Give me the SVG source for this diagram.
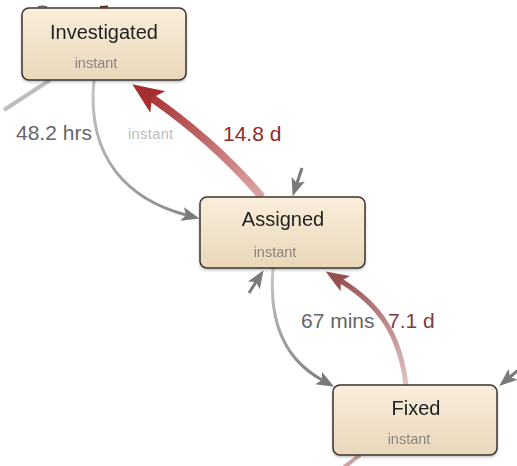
<svg xmlns="http://www.w3.org/2000/svg" width="517" height="466" viewBox="0 0 517 466">
  <style>
    .box { fill: url(#boxFill); stroke: #3a3530; stroke-width: 1.5; }
    .title { font-family: "Liberation Sans", Arial, sans-serif; font-size: 20px; fill: #222; text-anchor: middle; }
    .sub { font-family: "Liberation Sans", Arial, sans-serif; font-size: 14.5px; fill: #8a8580; text-anchor: middle; }
    .lbl { font-family: "Liberation Sans", Arial, sans-serif; font-size: 21px; }
    .edge { fill: none; stroke-linecap: butt; }
  </style>
  <defs>
    <linearGradient id="boxFill" x1="0" y1="0" x2="0" y2="1">
      <stop offset="0" stop-color="#faeedc"/>
      <stop offset="1" stop-color="#e9d7b9"/>
    </linearGradient>
    <filter id="shadow" x="-10%" y="-10%" width="120%" height="130%">
      <feDropShadow dx="0" dy="1.5" stdDeviation="1.2" flood-color="#000" flood-opacity="0.25"/>
    </filter>
    <!-- edge gradients, drawn along each connector -->
    <linearGradient id="gInstant" gradientUnits="userSpaceOnUse" x1="94" y1="80" x2="190" y2="216">
      <stop offset="0" stop-color="#c4c4c4"/>
      <stop offset="1" stop-color="#8a8a8a"/>
    </linearGradient>
    <linearGradient id="gRed" gradientUnits="userSpaceOnUse" x1="262" y1="197" x2="150" y2="96">
      <stop offset="0" stop-color="#dda6a6"/>
      <stop offset="1" stop-color="#a83434"/>
    </linearGradient>
    <linearGradient id="gMins" gradientUnits="userSpaceOnUse" x1="273" y1="268" x2="322" y2="380">
      <stop offset="0" stop-color="#c8c8c8"/>
      <stop offset="1" stop-color="#7f7f7f"/>
    </linearGradient>
    <linearGradient id="gBrown" gradientUnits="userSpaceOnUse" x1="406" y1="385" x2="341" y2="281">
      <stop offset="0" stop-color="#e2c2c2"/>
      <stop offset="1" stop-color="#9a5454"/>
    </linearGradient>
    <marker id="arrGray" markerUnits="userSpaceOnUse" markerWidth="20" markerHeight="16" viewBox="0 -8 20 16" refX="4" refY="0" orient="auto">
      <path d="M0,-7 L18,0 L0,7 L4,0 z" fill="#7a7a7a"/>
    </marker>
    <marker id="arrRed" markerUnits="userSpaceOnUse" markerWidth="32" markerHeight="28" viewBox="0 -14 32 28" refX="7" refY="0" orient="auto">
      <path d="M0,-13 L31,0 L0,13 L7,0 z" fill="#a52f2f"/>
    </marker>
    <marker id="arrBrown" markerUnits="userSpaceOnUse" markerWidth="24" markerHeight="20" viewBox="0 -10 24 20" refX="5" refY="0" orient="auto">
      <path d="M0,-9 L23,0 L0,9 L5,0 z" fill="#955050"/>
    </marker>
  </defs>

  <g id="connectors">
    <!-- stubs running off the canvas -->
    <path class="edge" d="M50 80 L4 110" stroke="#bdbdbd" stroke-width="4"/>
    <path class="edge" d="M360 455 L343 468" stroke="#c9a3a3" stroke-width="4"/>
    <path class="edge" d="M38 7 Q42 5.5 47 7" stroke="#666" stroke-width="1.5"/>
    <path class="edge" d="M100 7 L108 6.5" stroke="#6a2a2a" stroke-width="2"/>

    <!-- Investigated -> Assigned (instant) -->
    <path class="edge" d="M94 80 C86 160 130 200 186 215" stroke="url(#gInstant)" stroke-width="3" marker-end="url(#arrGray)"/>
    <!-- Assigned -> Investigated (14.8 d) -->
    <path class="edge" d="M262 197 C232 162 192 126 152 98" stroke="url(#gRed)" stroke-width="8" marker-end="url(#arrRed)"/>
    <!-- incoming stubs -->
    <path class="edge" d="M302 168 L297 183" stroke="#7a7a7a" stroke-width="3" marker-end="url(#arrGray)"/>
    <path class="edge" d="M249 293 L256 282" stroke="#7a7a7a" stroke-width="3" marker-end="url(#arrGray)"/>
    <path class="edge" d="M522 367 L510 377" stroke="#7a7a7a" stroke-width="3" marker-end="url(#arrGray)"/>
    <!-- Assigned -> Fixed (67 mins) -->
    <path class="edge" d="M273 268 C268 330 290 362 322 380" stroke="url(#gMins)" stroke-width="3" marker-end="url(#arrGray)"/>
    <!-- Fixed -> Assigned (7.1 d) -->
    <path class="edge" d="M406 385 C400 335 380 305 341 281" stroke="url(#gBrown)" stroke-width="5" marker-end="url(#arrBrown)"/>

    <text class="lbl" x="16" y="140" fill="#666">48.2 hrs</text>
    <text x="128" y="139" font-family="Liberation Sans, Arial, sans-serif" font-size="14.5" letter-spacing="0.4" fill="#bcbcbc">instant</text>
    <text class="lbl" x="223" y="141" fill="#8c2a2a">14.8 d</text>
    <text class="lbl" x="301" y="328" fill="#666">67 mins</text>
    <text class="lbl" x="388" y="328" fill="#7a3c3c">7.1 d</text>
  </g>

  <g id="investigated" filter="url(#shadow)">
    <rect class="box" x="22" y="8" width="164" height="72" rx="7"/>
    <text class="title" x="104" y="39">Investigated</text>
    <text class="sub" x="96" y="68">instant</text>
  </g>

  <g id="assigned" filter="url(#shadow)">
    <rect class="box" x="200" y="197" width="165" height="71" rx="7"/>
    <text class="title" x="283" y="226">Assigned</text>
    <text class="sub" x="275" y="257">instant</text>
  </g>

  <g id="fixed" filter="url(#shadow)">
    <rect class="box" x="333" y="385" width="164" height="70" rx="7"/>
    <text class="title" x="416" y="415">Fixed</text>
    <text class="sub" x="409" y="444">instant</text>
  </g>
</svg>
